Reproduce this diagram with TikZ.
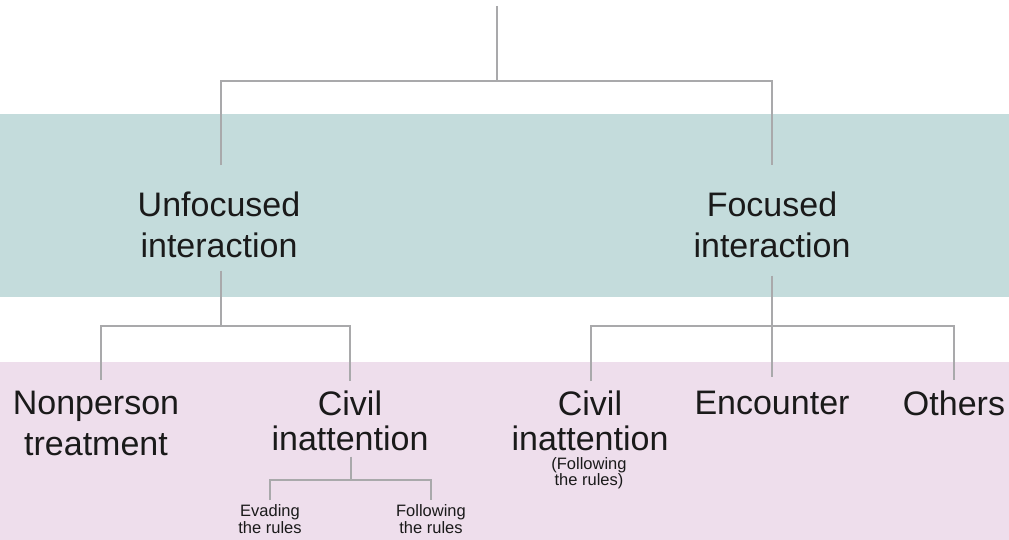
\documentclass[tikz,border=0pt]{standalone}
\usepackage{fontspec}
\setmainfont{Liberation Sans}
\definecolor{bandteal}{HTML}{C4DCDC}
\definecolor{bandpink}{HTML}{EEDEEC}
\definecolor{linegray}{HTML}{A9A9AB}
\definecolor{inkdark}{HTML}{1A1A1A}
\tikzset{
  conn/.style={draw=linegray, line width=2.5pt},
  bigtext/.style={inner sep=0pt, anchor=north, align=center, text=inkdark, font=\fontsize{34}{41}\selectfont},
  midtext/.style={bigtext, font=\fontsize{34}{35}\selectfont},
  smalltext/.style={inner sep=0pt, anchor=north, align=center, text=inkdark, font=\fontsize{16.5}{17}\selectfont},
  smalltextb/.style={smalltext, font=\fontsize{16.5}{16}\selectfont},
}
\begin{document}
\begin{tikzpicture}[x=1pt,y=-1pt]
\useasboundingbox (0,0) rectangle (1009,540);
\fill[bandteal] (0,114) rectangle (1009,297);
\fill[bandpink] (0,362) rectangle (1009,540);

% nodes (anchor north = top of first line)
\node[bigtext] (unf) at (219,191.2) {Unfocused\\interaction};
\node[bigtext] (foc) at (772,191.2) {Focused\\interaction};
\node[bigtext] (np) at (96,390.7) {Nonperson\\treatment};
\node[midtext] (ci1) at (350,390.2) {Civil\\inattention};
\node[midtext] (ci2) at (590,390.2) {Civil\\inattention};
\node[bigtext] (enc) at (772,390.7) {Encounter};
\node[bigtext] (oth) at (954,390.7) {Others};
\node[smalltext] (ev) at (270,504) {Evading\\the rules};
\node[smalltext] (fo) at (431,504) {Following\\the rules};
\node[smalltextb] (fr) at (589,457) {(Following\\the rules)};

% junctions
\coordinate (root) at (497,6);
\coordinate (j1) at (497,81);
\coordinate (j2) at (221,326);
\coordinate (j3) at (772,326);
\coordinate (j4) at (351,480);

% connectors
\draw[conn] (root) -- (j1);
\draw[conn, shorten <=26pt, shorten >=26pt] ([xshift=2pt]unf.north) |- (j1) -| (foc.north);
\draw[conn, shorten <=13pt] ([xshift=2pt]unf.south) -- (j2);
\draw[conn, shorten <=18pt] (foc.south) -- (j3);
\draw[conn, shorten <=10.7pt, shorten >=9pt] ([xshift=5pt]np.north) |- (j2) -| (ci1.north);
\draw[conn, shorten <=9pt, shorten >=10.7pt] ([xshift=1pt]ci2.north) |- (j3) -| (oth.north);
\draw[conn, shorten >=13.7pt] (j3) -- (enc.north);
\draw[conn, shorten <=6pt] ([xshift=1pt]ci1.south) -- (j4);
\draw[conn, shorten <=4pt, shorten >=4pt] (ev.north) |- (j4) -| (fo.north);
\end{tikzpicture}
\end{document}
